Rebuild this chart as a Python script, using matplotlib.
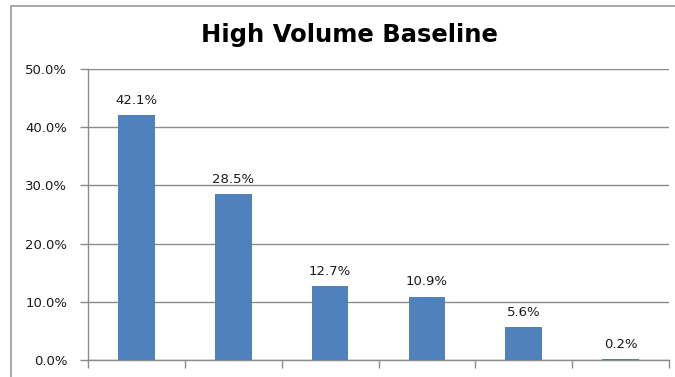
import numpy as np
import matplotlib
matplotlib.use("Agg")
import matplotlib.pyplot as plt
from matplotlib.patches import Rectangle

plt.rcParams["font.family"] = ["DejaVu Sans"]

# shares for each group, in percent
groups = ["A", "B", "C", "D", "E", "F"]
shares = [42.1, 28.5, 12.7, 10.9, 5.6, 0.2]
yticks = [0, 10, 20, 30, 40, 50]

bar_color = "#4F81BD"
grid_color = "#8C8C8C"
text_color = "#1A1A1A"

fig = plt.figure(figsize=(6.75, 3.77), dpi=100)
ax = fig.add_axes([88 / 675, 1 - 360 / 377, (669 - 88) / 675, (360 - 69) / 377])

# outer chart frame
fig.patches.append(Rectangle((11 / 675, -0.1), 1.2, 1 - 6 / 377 + 0.1,
                             transform=fig.transFigure, fill=False,
                             edgecolor="#999999", linewidth=1.2))

x = np.arange(len(groups))
ax.bar(x, shares, width=0.38, color=bar_color, zorder=3)
for xi, v in zip(x, shares):
    ax.text(xi, v + 1.4, f"{v:.1f}%", ha="center", va="bottom",
            fontsize=9.5, color=text_color)

ax.set_xlim(-0.5, len(groups) - 0.5)
ax.set_ylim(0, 50)
ax.set_yticks(yticks)
ax.set_yticklabels([f"{t:.1f}%" for t in yticks], fontsize=9.5, color=text_color)
ax.set_xticks(np.arange(len(groups) + 1) - 0.5)
ax.set_xticklabels([])
ax.tick_params(axis="both", direction="out", length=6, color=grid_color, width=1)
ax.tick_params(axis="y", pad=9)
ax.yaxis.grid(True, color=grid_color, linewidth=1, zorder=0)
ax.set_axisbelow(True)
for side in ["top", "right"]:
    ax.spines[side].set_visible(False)
for side in ["left", "bottom"]:
    ax.spines[side].set_color(grid_color)
    ax.spines[side].set_linewidth(1)

fig.text(349 / 675, 1 - 35 / 377, "High Volume Baseline", ha="center",
         va="center", fontsize=17.5, fontweight="bold", color="#000000")

fig.savefig("out.png", dpi=100)
